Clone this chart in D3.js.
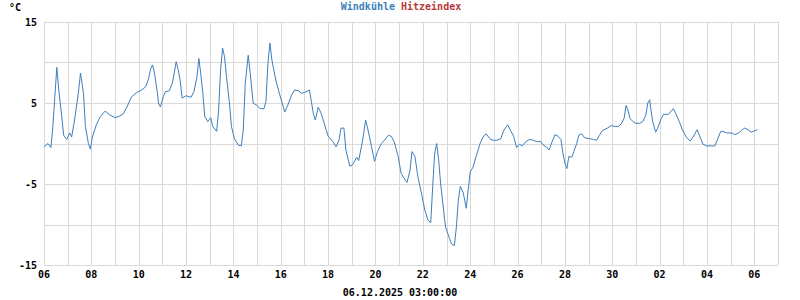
<!DOCTYPE html>
<html>
<head>
<meta charset="utf-8">
<script src="https://cdn.jsdelivr.net/npm/d3@7"></script>
<style>
  html, body { margin: 0; padding: 0; background: #fff; }
  svg { display: block; }
  text { font-family: "DejaVu Sans Mono", "Liberation Mono", monospace; font-weight: bold; font-size: 10px; }
</style>
</head>
<body>
<svg id="chart" width="800" height="300"></svg>
<script>
// ---- data ----
const seriesNames = ["Windkühle", "Hitzeindex"];
const startDate = "2025-11-06T00:00:00Z";
const endDate = "2025-12-07T00:00:00Z";
const timestampLabel = "06.12.2025 03:00:00";
const unitLabel = "°C";
// hours since start
const hours = [0,4,7,9,11,13,15,18,20,23,26,28,31,35,37,40,42,45,47,49,53,57,62,67,72,75,80,84,89,94,99,103,106,108,110,112,115,116,118,121,123,127,130,132,134,136,138,140,144,149,152,155,157,159,161,163,166,169,171,175,177,179,181,183,185,188,190,193,197,200,202,204,207,209,212,216,219,223,225,227,229,231,235,239,244,247,251,254,258,261,264,269,271,273,275,278,281,285,288,293,296,299,301,304,306,310,313,317,319,323,326,328,332,335,338,342,345,349,352,355,359,362,366,368,371,373,376,379,383,386,389,392,394,396,398,400,402,405,407,411,413,416,418,420,422,425,428,430,432,435,438,442,445,448,452,455,459,463,466,470,473,476,479,482,485,488,492,496,500,503,506,509,512,515,518,521,524,526,528,530,532,535,537,540,542,545,548,553,557,560,563,566,571,575,579,582,585,588,590,592,594,597,600,604,607,610,612,614,615,617,620,622,625,628,633,635,638,640,644,647,651,655,658,662,665,668,672,677,680,683,686,688,692,697,700,704,707,710,714,716,719,723];
const windchill = [-0.4,0.0,-0.5,2.1,5.8,9.4,6.6,3.3,1.0,0.5,1.3,0.8,2.9,6.4,8.7,6.2,2.1,0.0,-0.7,0.8,2.3,3.3,4.0,3.5,3.2,3.3,3.6,4.5,5.8,6.3,6.6,7.0,8.0,9.2,9.7,8.7,6.2,5.0,4.5,5.8,6.4,6.5,7.4,8.7,10.1,9.1,7.8,5.6,5.9,5.7,6.4,8.2,10.5,8.5,6.2,3.3,2.7,3.2,2.1,1.5,4.1,9.1,11.8,10.7,8.2,5.0,2.1,0.6,-0.2,-0.3,1.7,7.4,10.9,8.7,5.0,4.7,4.3,4.3,5.2,9.9,12.4,10.3,7.8,6.0,3.9,4.7,6.0,6.6,6.5,6.2,6.3,6.6,5.2,3.7,2.9,4.5,3.7,2.1,0.9,0.2,-0.4,0.4,1.9,1.9,-0.8,-2.8,-2.6,-1.7,-2.1,0.4,2.9,1.9,-0.4,-2.2,-1.0,0.0,0.4,1.0,0.9,0.2,-1.6,-3.7,-4.5,-4.8,-3.3,-1.0,-1.6,-4.1,-6.4,-8.2,-9.4,-9.8,-5.3,-1.2,0.0,-2.0,-4.9,-8.2,-10.3,-11.7,-12.4,-12.6,-10.3,-7.0,-5.3,-6.1,-8.0,-5.7,-3.5,-2.9,-1.6,0.0,0.8,1.2,0.6,0.4,0.4,0.6,1.6,2.3,1.6,0.9,-0.5,-0.1,-0.3,0.2,0.5,0.4,0.2,0.3,-0.2,-0.4,-0.8,0.2,1.1,0.9,0.5,-1.2,-2.4,-3.1,-1.6,-1.7,-1.0,0.0,1.0,1.2,0.7,0.6,0.5,0.4,1.0,1.6,1.9,2.2,2.1,2.1,2.4,3.1,4.7,4.1,3.1,2.7,2.5,2.5,2.7,3.5,5.0,5.4,4.3,2.7,1.4,1.9,2.9,3.6,3.6,3.9,4.3,3.8,2.7,1.7,0.8,0.3,0.8,1.7,0.8,-0.1,-0.3,-0.3,-0.3,0.6,1.5,1.5,1.3,1.3,1.1,1.3,1.6,1.9,1.7,1.4,1.5,1.7];
const yGridValues = [-15,-10,-5,0,5,10,15];
const yTickLabels = ["15","5","-5","-15"];
const xTickLabels = ["06","08","10","12","14","16","18","20","22","24","26","28","30","02","04","06"];

// ---- chart ----
const svg = d3.select("#chart");
const mLeft = 44, mRight = 778, mTop = 22, mBottom = 265;
const t0 = new Date(startDate), t1 = new Date(endDate);
const x = d3.scaleUtc().domain([t0, t1]).range([mLeft, mRight]);
const y = d3.scaleLinear().domain([-15, 15]).range([mBottom, mTop]);
const gridColor = "#d9d9d9";

const data = hours.map((h, i) => ({ t: new Date(t0.getTime() + h * 3600e3), v: windchill[i] }));

// horizontal grid
svg.append("g").selectAll("line").data(yGridValues).join("line")
  .attr("x1", mLeft).attr("x2", mRight)
  .attr("y1", d => Math.round(y(d)) + 0.5).attr("y2", d => Math.round(y(d)) + 0.5)
  .attr("stroke", gridColor).attr("stroke-width", 1);

// vertical grid (daily)
const days = d3.utcDay.range(t0, d3.utcDay.offset(t1, 1));
svg.append("g").selectAll("line").data(days).join("line")
  .attr("x1", d => Math.round(x(d)) + 0.5).attr("x2", d => Math.round(x(d)) + 0.5)
  .attr("y1", mTop).attr("y2", mBottom)
  .attr("stroke", gridColor).attr("stroke-width", 1);

// y labels
svg.append("g").selectAll("text").data(yTickLabels).join("text")
  .attr("x", 37).attr("y", d => y(+d) + 3.5)
  .attr("text-anchor", "end").attr("fill", "#000").text(d => d);

// x labels (every 2 days)
const labelDates = xTickLabels.map((s, i) => d3.utcDay.offset(t0, i * 2));
svg.append("g").selectAll("text").data(labelDates).join("text")
  .attr("x", d => x(d)).attr("y", 278)
  .attr("text-anchor", "middle").attr("fill", "#000")
  .text((d, i) => xTickLabels[i]);

// unit
svg.append("text").attr("x", 9).attr("y", 11).attr("fill", "#000").text(unitLabel);

// legend
const legend = svg.append("text").attr("x", 401).attr("y", 10).attr("text-anchor", "middle");
legend.append("tspan").attr("fill", "#3d7fbc").text(seriesNames[0]);
legend.append("tspan").attr("fill", "#b83a3a").text(" " + seriesNames[1]);

// timestamp
svg.append("text").attr("x", 400).attr("y", 296).attr("text-anchor", "middle").attr("fill", "#000").text(timestampLabel);

// line
const line = d3.line().x(d => x(d.t)).y(d => y(d.v));
svg.append("path").datum(data)
  .attr("fill", "none").attr("stroke", "#3d7fbc").attr("stroke-width", 1)
  .attr("d", line);
</script>
</body>
</html>
